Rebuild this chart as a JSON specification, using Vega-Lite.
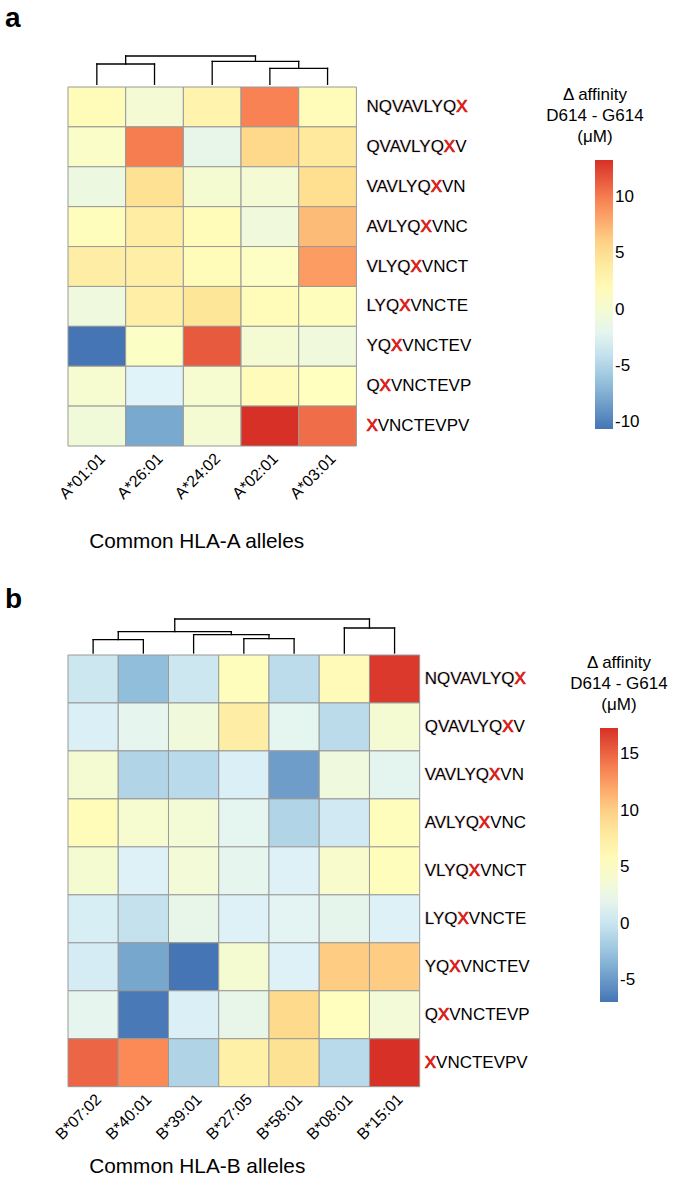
{
  "$schema": "https://vega.github.io/schema/vega-lite/v6.json",
  "background": "white",
  "padding": {"left": 5, "top": 5, "right": 5, "bottom": 5},
  "config": {
    "view": {"stroke": null},
    "font": "Liberation Sans",
    "axis": {"labelFont": "Liberation Sans", "titleFont": "Liberation Sans", "labelColor": "black", "titleColor": "black", "titleFontWeight": "normal"},
    "legend": {"labelFont": "Liberation Sans", "titleFont": "Liberation Sans", "labelColor": "black", "titleColor": "black", "titleFontWeight": "normal", "titleFontSize": 17, "labelFontSize": 17, "titleLineHeight": 21, "titleAlign": "center", "titlePadding": 14, "gradientStrokeWidth": 0, "labelOffset": 8, "gradientThickness": 18},
    "title": {"font": "Liberation Sans", "color": "black"}
  },
  "datasets": {
    "labels": [
      {"peptide": "NQVAVLYQX", "upto": "NQVAVLYQX", "pre": "NQVAVLYQ"},
      {"peptide": "QVAVLYQXV", "upto": "QVAVLYQX", "pre": "QVAVLYQ"},
      {"peptide": "VAVLYQXVN", "upto": "VAVLYQX", "pre": "VAVLYQ"},
      {"peptide": "AVLYQXVNC", "upto": "AVLYQX", "pre": "AVLYQ"},
      {"peptide": "VLYQXVNCT", "upto": "VLYQX", "pre": "VLYQ"},
      {"peptide": "LYQXVNCTE", "upto": "LYQX", "pre": "LYQ"},
      {"peptide": "YQXVNCTEV", "upto": "YQX", "pre": "YQ"},
      {"peptide": "QXVNCTEVP", "upto": "QX", "pre": "Q"},
      {"peptide": "XVNCTEVPV", "upto": "X", "pre": ""}
    ],
    "dendroA": [
      {"x": 0.5, "x2": 0.5, "y": 0, "y2": 20.3},
      {"x": 1.5, "x2": 1.5, "y": 0, "y2": 20.3},
      {"x": 0.5, "x2": 1.5, "y": 20.3, "y2": 20.3},
      {"x": 3.5, "x2": 3.5, "y": 0, "y2": 16},
      {"x": 4.5, "x2": 4.5, "y": 0, "y2": 16},
      {"x": 3.5, "x2": 4.5, "y": 16, "y2": 16},
      {"x": 2.5, "x2": 2.5, "y": 0, "y2": 23},
      {"x": 4.0, "x2": 4.0, "y": 16, "y2": 23},
      {"x": 2.5, "x2": 4.0, "y": 23, "y2": 23},
      {"x": 1.0, "x2": 1.0, "y": 20.3, "y2": 28.3},
      {"x": 3.25, "x2": 3.25, "y": 23, "y2": 28.3},
      {"x": 1.0, "x2": 3.25, "y": 28.3, "y2": 28.3}
    ],
    "dendroB": [
      {"x": 0.5, "x2": 0.5, "y": 0, "y2": 13.3},
      {"x": 1.5, "x2": 1.5, "y": 0, "y2": 13.3},
      {"x": 0.5, "x2": 1.5, "y": 13.3, "y2": 13.3},
      {"x": 3.5, "x2": 3.5, "y": 0, "y2": 14.3},
      {"x": 4.5, "x2": 4.5, "y": 0, "y2": 14.3},
      {"x": 3.5, "x2": 4.5, "y": 14.3, "y2": 14.3},
      {"x": 2.5, "x2": 2.5, "y": 0, "y2": 18.3},
      {"x": 4.0, "x2": 4.0, "y": 14.3, "y2": 18.3},
      {"x": 2.5, "x2": 4.0, "y": 18.3, "y2": 18.3},
      {"x": 1.0, "x2": 1.0, "y": 13.3, "y2": 21.3},
      {"x": 3.25, "x2": 3.25, "y": 18.3, "y2": 21.3},
      {"x": 1.0, "x2": 3.25, "y": 21.3, "y2": 21.3},
      {"x": 5.5, "x2": 5.5, "y": 0, "y2": 25},
      {"x": 6.5, "x2": 6.5, "y": 0, "y2": 25},
      {"x": 5.5, "x2": 6.5, "y": 25, "y2": 25},
      {"x": 2.125, "x2": 2.125, "y": 21.3, "y2": 34},
      {"x": 6.0, "x2": 6.0, "y": 25, "y2": 34},
      {"x": 2.125, "x2": 6.0, "y": 34, "y2": 34}
    ],
    "cellsA": [
      {"peptide": "NQVAVLYQX", "allele": "A*01:01", "value": 1.9},
      {"peptide": "NQVAVLYQX", "allele": "A*26:01", "value": -0.1},
      {"peptide": "NQVAVLYQX", "allele": "A*24:02", "value": 2.9},
      {"peptide": "NQVAVLYQX", "allele": "A*02:01", "value": 9.8},
      {"peptide": "NQVAVLYQX", "allele": "A*03:01", "value": 1.9},
      {"peptide": "QVAVLYQXV", "allele": "A*01:01", "value": 0.7},
      {"peptide": "QVAVLYQXV", "allele": "A*26:01", "value": 10.0},
      {"peptide": "QVAVLYQXV", "allele": "A*24:02", "value": -1.6},
      {"peptide": "QVAVLYQXV", "allele": "A*02:01", "value": 5.7},
      {"peptide": "QVAVLYQXV", "allele": "A*03:01", "value": 4.2},
      {"peptide": "VAVLYQXVN", "allele": "A*01:01", "value": -1.0},
      {"peptide": "VAVLYQXVN", "allele": "A*26:01", "value": 5.2},
      {"peptide": "VAVLYQXVN", "allele": "A*24:02", "value": 0.1},
      {"peptide": "VAVLYQXVN", "allele": "A*02:01", "value": -0.1},
      {"peptide": "VAVLYQXVN", "allele": "A*03:01", "value": 5.3},
      {"peptide": "AVLYQXVNC", "allele": "A*01:01", "value": 1.6},
      {"peptide": "AVLYQXVNC", "allele": "A*26:01", "value": 3.7},
      {"peptide": "AVLYQXVNC", "allele": "A*24:02", "value": 1.9},
      {"peptide": "AVLYQXVNC", "allele": "A*02:01", "value": -0.6},
      {"peptide": "AVLYQXVNC", "allele": "A*03:01", "value": 7.1},
      {"peptide": "VLYQXVNCT", "allele": "A*01:01", "value": 3.6},
      {"peptide": "VLYQXVNCT", "allele": "A*26:01", "value": 3.5},
      {"peptide": "VLYQXVNCT", "allele": "A*24:02", "value": 1.9},
      {"peptide": "VLYQXVNCT", "allele": "A*02:01", "value": 1.0},
      {"peptide": "VLYQXVNCT", "allele": "A*03:01", "value": 8.6},
      {"peptide": "LYQXVNCTE", "allele": "A*01:01", "value": -0.8},
      {"peptide": "LYQXVNCTE", "allele": "A*26:01", "value": 3.5},
      {"peptide": "LYQXVNCTE", "allele": "A*24:02", "value": 4.6},
      {"peptide": "LYQXVNCTE", "allele": "A*02:01", "value": 1.9},
      {"peptide": "LYQXVNCTE", "allele": "A*03:01", "value": 1.6},
      {"peptide": "YQXVNCTEV", "allele": "A*01:01", "value": -10.6},
      {"peptide": "YQXVNCTEV", "allele": "A*26:01", "value": 0.9},
      {"peptide": "YQXVNCTEV", "allele": "A*24:02", "value": 11.5},
      {"peptide": "YQXVNCTEV", "allele": "A*02:01", "value": 0.0},
      {"peptide": "YQXVNCTEV", "allele": "A*03:01", "value": -0.6},
      {"peptide": "QXVNCTEVP", "allele": "A*01:01", "value": 0.2},
      {"peptide": "QXVNCTEVP", "allele": "A*26:01", "value": -2.6},
      {"peptide": "QXVNCTEVP", "allele": "A*24:02", "value": 0.2},
      {"peptide": "QXVNCTEVP", "allele": "A*02:01", "value": 1.7},
      {"peptide": "QXVNCTEVP", "allele": "A*03:01", "value": 1.3},
      {"peptide": "XVNCTEVPV", "allele": "A*01:01", "value": -0.4},
      {"peptide": "XVNCTEVPV", "allele": "A*26:01", "value": -7.8},
      {"peptide": "XVNCTEVPV", "allele": "A*24:02", "value": 0.0},
      {"peptide": "XVNCTEVPV", "allele": "A*02:01", "value": 13.3},
      {"peptide": "XVNCTEVPV", "allele": "A*03:01", "value": 10.7}
    ],
    "cellsB": [
      {"peptide": "NQVAVLYQX", "allele": "B*07:02", "value": 0.2},
      {"peptide": "NQVAVLYQX", "allele": "B*40:01", "value": -2.85},
      {"peptide": "NQVAVLYQX", "allele": "B*39:01", "value": 0.2},
      {"peptide": "NQVAVLYQX", "allele": "B*27:05", "value": 5.5},
      {"peptide": "NQVAVLYQX", "allele": "B*58:01", "value": -0.6},
      {"peptide": "NQVAVLYQX", "allele": "B*08:01", "value": 5.8},
      {"peptide": "NQVAVLYQX", "allele": "B*15:01", "value": 16.9},
      {"peptide": "QVAVLYQXV", "allele": "B*07:02", "value": 0.85},
      {"peptide": "QVAVLYQXV", "allele": "B*40:01", "value": 1.95},
      {"peptide": "QVAVLYQXV", "allele": "B*39:01", "value": 3.25},
      {"peptide": "QVAVLYQXV", "allele": "B*27:05", "value": 7.5},
      {"peptide": "QVAVLYQXV", "allele": "B*58:01", "value": 1.8},
      {"peptide": "QVAVLYQXV", "allele": "B*08:01", "value": -0.7},
      {"peptide": "QVAVLYQXV", "allele": "B*15:01", "value": 3.8},
      {"peptide": "VAVLYQXVN", "allele": "B*07:02", "value": 3.8},
      {"peptide": "VAVLYQXVN", "allele": "B*40:01", "value": -1.2},
      {"peptide": "VAVLYQXVN", "allele": "B*39:01", "value": -0.8},
      {"peptide": "VAVLYQXVN", "allele": "B*27:05", "value": 0.85},
      {"peptide": "VAVLYQXVN", "allele": "B*58:01", "value": -4.7},
      {"peptide": "VAVLYQXVN", "allele": "B*08:01", "value": 3.1},
      {"peptide": "VAVLYQXVN", "allele": "B*15:01", "value": 1.7},
      {"peptide": "AVLYQXVNC", "allele": "B*07:02", "value": 5.7},
      {"peptide": "AVLYQXVNC", "allele": "B*40:01", "value": 4.0},
      {"peptide": "AVLYQXVNC", "allele": "B*39:01", "value": 3.6},
      {"peptide": "AVLYQXVNC", "allele": "B*27:05", "value": 1.8},
      {"peptide": "AVLYQXVNC", "allele": "B*58:01", "value": -1.2},
      {"peptide": "AVLYQXVNC", "allele": "B*08:01", "value": 0.4},
      {"peptide": "AVLYQXVNC", "allele": "B*15:01", "value": 5.5},
      {"peptide": "VLYQXVNCT", "allele": "B*07:02", "value": 3.9},
      {"peptide": "VLYQXVNCT", "allele": "B*40:01", "value": 1.05},
      {"peptide": "VLYQXVNCT", "allele": "B*39:01", "value": 3.5},
      {"peptide": "VLYQXVNCT", "allele": "B*27:05", "value": 1.9},
      {"peptide": "VLYQXVNCT", "allele": "B*58:01", "value": 1.0},
      {"peptide": "VLYQXVNCT", "allele": "B*08:01", "value": 4.3},
      {"peptide": "VLYQXVNCT", "allele": "B*15:01", "value": 5.5},
      {"peptide": "LYQXVNCTE", "allele": "B*07:02", "value": 0.75},
      {"peptide": "LYQXVNCTE", "allele": "B*40:01", "value": -0.2},
      {"peptide": "LYQXVNCTE", "allele": "B*39:01", "value": 2.2},
      {"peptide": "LYQXVNCTE", "allele": "B*27:05", "value": 1.0},
      {"peptide": "LYQXVNCTE", "allele": "B*58:01", "value": 1.6},
      {"peptide": "LYQXVNCTE", "allele": "B*08:01", "value": 2.0},
      {"peptide": "LYQXVNCTE", "allele": "B*15:01", "value": 1.0},
      {"peptide": "YQXVNCTEV", "allele": "B*07:02", "value": 0.6},
      {"peptide": "YQXVNCTEV", "allele": "B*40:01", "value": -4.2},
      {"peptide": "YQXVNCTEV", "allele": "B*39:01", "value": -6.9},
      {"peptide": "YQXVNCTEV", "allele": "B*27:05", "value": 3.9},
      {"peptide": "YQXVNCTEV", "allele": "B*58:01", "value": 1.05},
      {"peptide": "YQXVNCTEV", "allele": "B*08:01", "value": 10.2},
      {"peptide": "YQXVNCTEV", "allele": "B*15:01", "value": 10.2},
      {"peptide": "QXVNCTEVP", "allele": "B*07:02", "value": 1.95},
      {"peptide": "QXVNCTEVP", "allele": "B*40:01", "value": -6.7},
      {"peptide": "QXVNCTEVP", "allele": "B*39:01", "value": 0.85},
      {"peptide": "QXVNCTEVP", "allele": "B*27:05", "value": 2.2},
      {"peptide": "QXVNCTEVP", "allele": "B*58:01", "value": 9.5},
      {"peptide": "QXVNCTEVP", "allele": "B*08:01", "value": 5.3},
      {"peptide": "QXVNCTEVP", "allele": "B*15:01", "value": 3.5},
      {"peptide": "XVNCTEVPV", "allele": "B*07:02", "value": 15.0},
      {"peptide": "XVNCTEVPV", "allele": "B*40:01", "value": 13.4},
      {"peptide": "XVNCTEVPV", "allele": "B*39:01", "value": -1.3},
      {"peptide": "XVNCTEVPV", "allele": "B*27:05", "value": 7.2},
      {"peptide": "XVNCTEVPV", "allele": "B*58:01", "value": 9.0},
      {"peptide": "XVNCTEVPV", "allele": "B*08:01", "value": -0.8},
      {"peptide": "XVNCTEVPV", "allele": "B*15:01", "value": 17.3}
    ]
  },
  "spacing": 34,
  "resolve": {"scale": {"color": "independent"}, "legend": {"color": "independent"}},
  "vconcat": [
    {
      "title": {"text": "a", "anchor": "start", "frame": "group", "fontSize": 28, "fontWeight": "bold", "dx": -63, "offset": 22},
      "spacing": 0,
      "resolve": {"scale": {"x": "independent", "y": "independent", "color": "independent"}, "legend": {"color": "independent"}},
      "vconcat": [
        {
          "width": 288.4, "height": 28.3,
          "data": {"name": "dendroA"},
          "mark": {"type": "rule", "color": "black", "strokeWidth": 1.3, "strokeCap": "square"},
          "encoding": {
            "x": {"field": "x", "type": "quantitative", "scale": {"domain": [0, 5], "nice": false, "zero": false}, "axis": null},
            "x2": {"field": "x2"},
            "y": {"field": "y", "type": "quantitative", "scale": {"domain": [0, 28.3], "nice": false}, "axis": null},
            "y2": {"field": "y2"}
          }
        },
        {
          "width": 288.4, "height": 359,
          "layer": [
            {
              "data": {"name": "cellsA"},
              "mark": {"type": "rect", "stroke": "#999999", "strokeWidth": 1},
              "encoding": {
                "x": {"field": "allele", "type": "nominal",
                  "scale": {"domain": ["A*01:01", "A*26:01", "A*24:02", "A*02:01", "A*03:01"], "paddingInner": 0, "paddingOuter": 0},
                  "axis": {"labelAngle": -45, "labelFontSize": 16, "labelPadding": 4, "ticks": false, "domain": false,
                    "title": "Common HLA-A alleles", "titleFontSize": 20.8, "titleAnchor": "start", "titleAlign": "left", "titleBaseline": "alphabetic", "titleX": 20.7, "titleY": 101.7}},
                "y": {"field": "peptide", "type": "nominal",
                  "scale": {"domain": ["NQVAVLYQX", "QVAVLYQXV", "VAVLYQXVN", "AVLYQXVNC", "VLYQXVNCT", "LYQXVNCTE", "YQXVNCTEV", "QXVNCTEVP", "XVNCTEVPV"], "paddingInner": 0, "paddingOuter": 0},
                  "axis": null},
                "color": {"field": "value", "type": "quantitative",
                  "scale": {"domain": [-10.6, -6.617, -2.633, 1.35, 5.333, 9.317, 13.3], "range": ["#4575B4", "#91BFDB", "#E0F3F8", "#FFFFBF", "#FEE090", "#FC8D59", "#D73027"], "interpolate": "rgb"},
                  "legend": {"title": ["Δ affinity", "D614 - G614", "(μM)"], "values": [-10, -5, 0, 5, 10], "labelExpr": "toString(datum.value)", "gradientLength": 269, "titleAnchor": "start", "offset": 189}}
              }
            },
            {
              "data": {"name": "labels"},
              "mark": {"type": "text", "align": "left", "baseline": "middle", "fontSize": 17, "dx": 10, "fill": "black"},
              "encoding": {"x": {"value": "width"}, "y": {"field": "peptide", "type": "nominal"}, "text": {"field": "peptide"}}
            },
            {
              "data": {"name": "labels"},
              "mark": {"type": "text", "align": "left", "baseline": "middle", "fontSize": 17, "dx": 10, "fill": "#E3211C", "stroke": "#E3211C", "strokeWidth": 0.7},
              "encoding": {"x": {"value": "width"}, "y": {"field": "peptide", "type": "nominal"}, "text": {"field": "upto"}}
            },
            {
              "data": {"name": "labels"},
              "mark": {"type": "text", "align": "left", "baseline": "middle", "fontSize": 17, "dx": 10, "fill": "white", "stroke": "white", "strokeWidth": 1.2},
              "encoding": {"x": {"value": "width"}, "y": {"field": "peptide", "type": "nominal"}, "text": {"field": "pre"}}
            },
            {
              "data": {"name": "labels"},
              "mark": {"type": "text", "align": "left", "baseline": "middle", "fontSize": 17, "dx": 10, "fill": "black"},
              "encoding": {"x": {"value": "width"}, "y": {"field": "peptide", "type": "nominal"}, "text": {"field": "pre"}}
            }
          ]
        }
      ]
    },
    {
      "title": {"text": "b", "anchor": "start", "frame": "group", "fontSize": 28, "fontWeight": "bold", "dx": -63, "offset": 4},
      "spacing": 0,
      "resolve": {"scale": {"x": "independent", "y": "independent", "color": "independent"}, "legend": {"color": "independent"}},
      "vconcat": [
        {
          "width": 351.7, "height": 34,
          "data": {"name": "dendroB"},
          "mark": {"type": "rule", "color": "black", "strokeWidth": 1.3, "strokeCap": "square"},
          "encoding": {
            "x": {"field": "x", "type": "quantitative", "scale": {"domain": [0, 7], "nice": false, "zero": false}, "axis": null},
            "x2": {"field": "x2"},
            "y": {"field": "y", "type": "quantitative", "scale": {"domain": [0, 34], "nice": false}, "axis": null},
            "y2": {"field": "y2"}
          }
        },
        {
          "width": 351.7, "height": 431.7,
          "layer": [
            {
              "data": {"name": "cellsB"},
              "mark": {"type": "rect", "stroke": "#999999", "strokeWidth": 1},
              "encoding": {
                "x": {"field": "allele", "type": "nominal",
                  "scale": {"domain": ["B*07:02", "B*40:01", "B*39:01", "B*27:05", "B*58:01", "B*08:01", "B*15:01"], "paddingInner": 0, "paddingOuter": 0},
                  "axis": {"labelAngle": -45, "labelFontSize": 16, "labelPadding": 4, "ticks": false, "domain": false,
                    "title": "Common HLA-B alleles", "titleFontSize": 20.8, "titleAnchor": "start", "titleAlign": "left", "titleBaseline": "alphabetic", "titleX": 20.7, "titleY": 86}},
                "y": {"field": "peptide", "type": "nominal",
                  "scale": {"domain": ["NQVAVLYQX", "QVAVLYQXV", "VAVLYQXVN", "AVLYQXVNC", "VLYQXVNCT", "LYQXVNCTE", "YQXVNCTEV", "QXVNCTEVP", "XVNCTEVPV"], "paddingInner": 0, "paddingOuter": 0},
                  "axis": null},
                "color": {"field": "value", "type": "quantitative",
                  "scale": {"domain": [-6.9, -2.867, 1.167, 5.2, 9.233, 13.267, 17.3], "range": ["#4575B4", "#91BFDB", "#E0F3F8", "#FFFFBF", "#FEE090", "#FC8D59", "#D73027"], "interpolate": "rgb"},
                  "legend": {"title": ["Δ affinity", "D614 - G614", "(μM)"], "values": [-5, 0, 5, 10, 15], "labelExpr": "toString(datum.value)", "gradientLength": 274, "titleAnchor": "middle", "offset": 150}}
              }
            },
            {
              "data": {"name": "labels"},
              "mark": {"type": "text", "align": "left", "baseline": "middle", "fontSize": 17, "dx": 5, "fill": "black"},
              "encoding": {"x": {"value": "width"}, "y": {"field": "peptide", "type": "nominal"}, "text": {"field": "peptide"}}
            },
            {
              "data": {"name": "labels"},
              "mark": {"type": "text", "align": "left", "baseline": "middle", "fontSize": 17, "dx": 5, "fill": "#E3211C", "stroke": "#E3211C", "strokeWidth": 0.7},
              "encoding": {"x": {"value": "width"}, "y": {"field": "peptide", "type": "nominal"}, "text": {"field": "upto"}}
            },
            {
              "data": {"name": "labels"},
              "mark": {"type": "text", "align": "left", "baseline": "middle", "fontSize": 17, "dx": 5, "fill": "white", "stroke": "white", "strokeWidth": 1.2},
              "encoding": {"x": {"value": "width"}, "y": {"field": "peptide", "type": "nominal"}, "text": {"field": "pre"}}
            },
            {
              "data": {"name": "labels"},
              "mark": {"type": "text", "align": "left", "baseline": "middle", "fontSize": 17, "dx": 5, "fill": "black"},
              "encoding": {"x": {"value": "width"}, "y": {"field": "peptide", "type": "nominal"}, "text": {"field": "pre"}}
            }
          ]
        }
      ]
    }
  ]
}
